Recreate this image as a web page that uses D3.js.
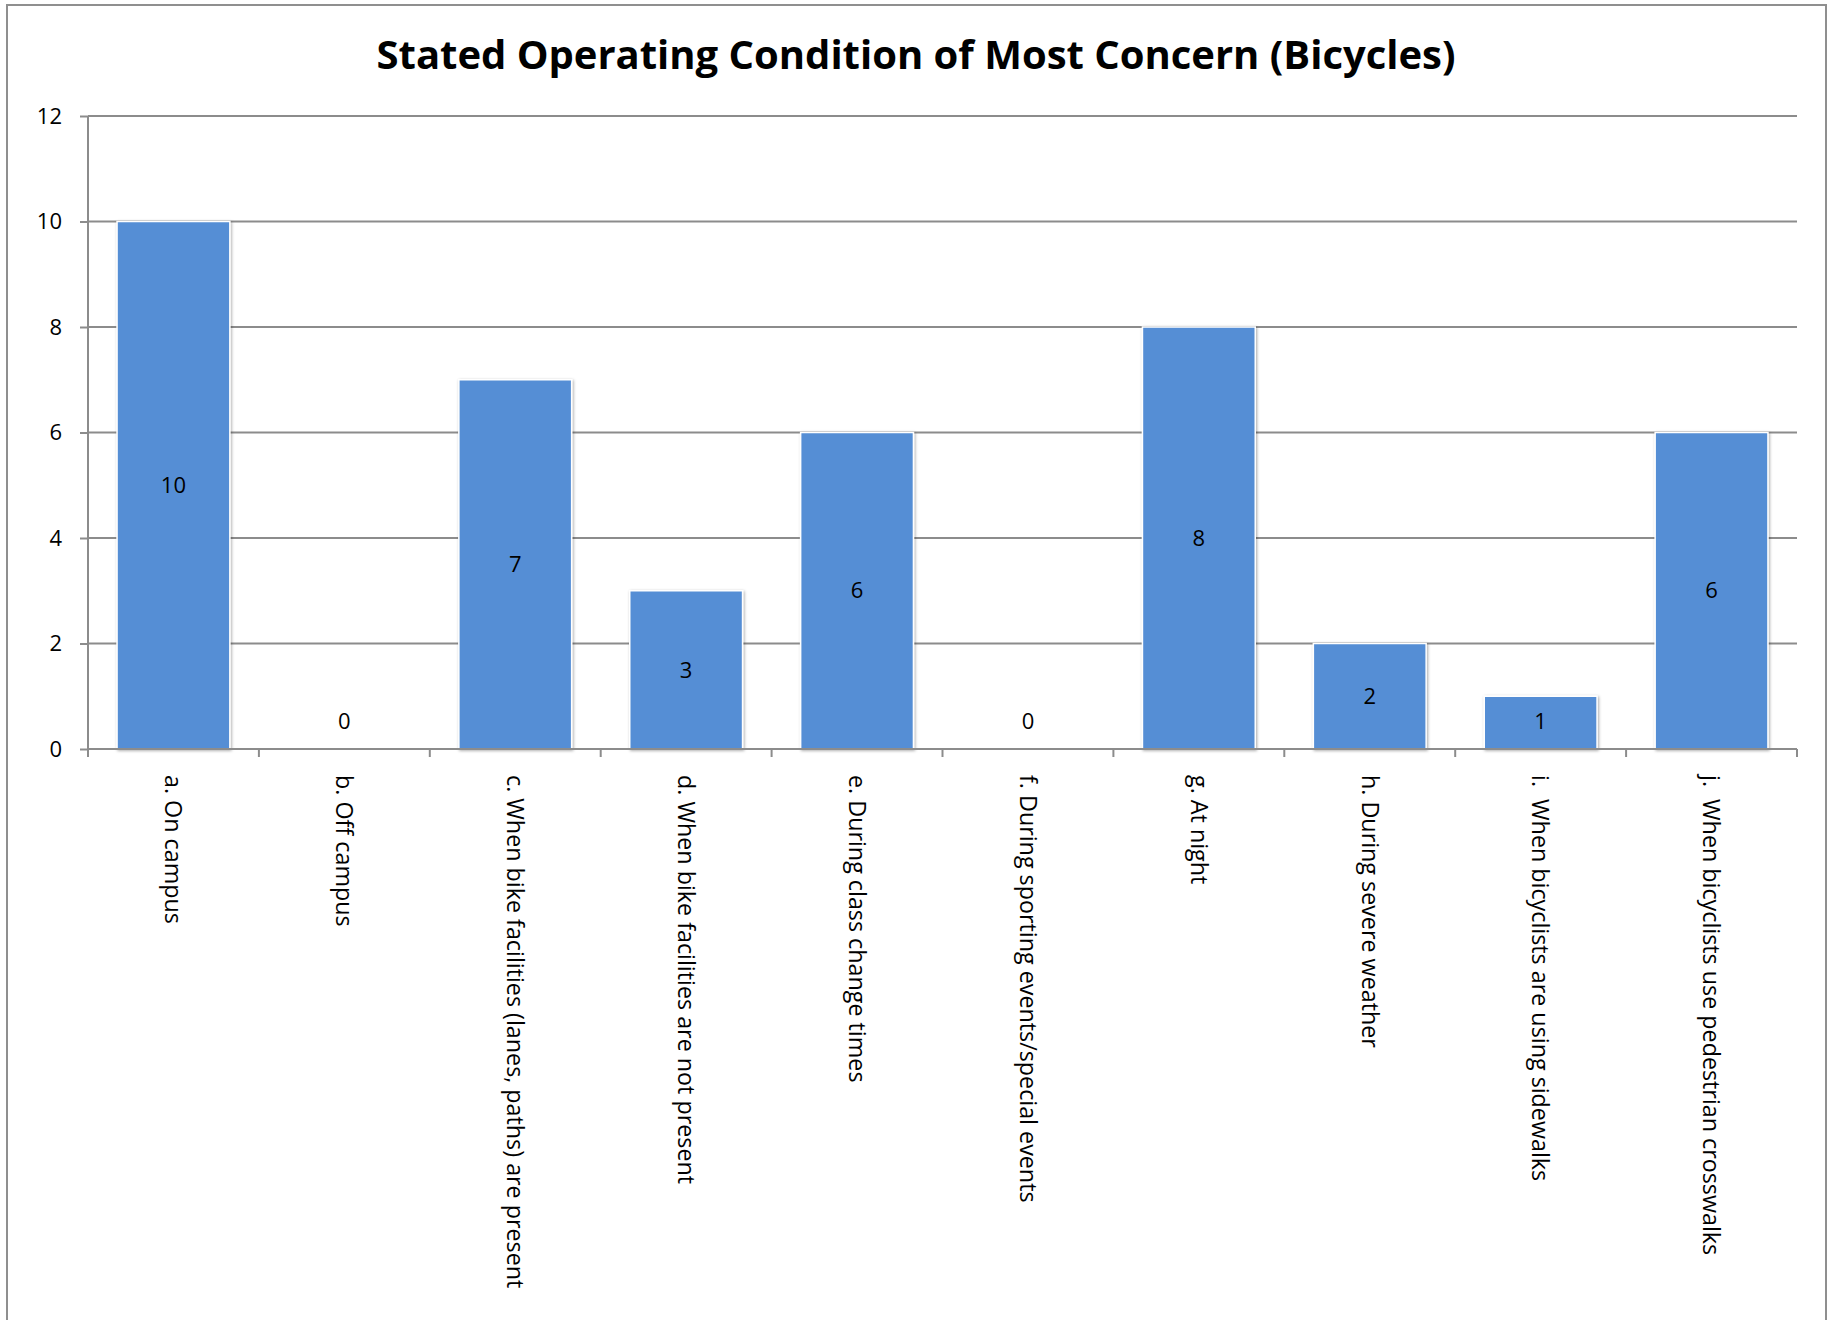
<!DOCTYPE html>
<html>
<head>
<meta charset="utf-8">
<script src="https://cdn.jsdelivr.net/npm/d3@7"></script>
<style>
  body { margin: 0; background: #fff; }
  text { font-family: "Open Sans", "Noto Sans", sans-serif; }
</style>
</head>
<body>
<script>
// Chart data
var categories = [
  "a. On campus",
  "b. Off campus",
  "c. When bike facilities (lanes, paths) are present",
  "d. When bike facilities are not present",
  "e. During class change times",
  "f. During sporting events/special events",
  "g. At night",
  "h. During severe weather",
  "i.  When bicyclists are using sidewalks",
  "j.  When bicyclists use pedestrian crosswalks"
];
var counts = [10, 0, 7, 3, 6, 0, 8, 2, 1, 6];
var yTicks = [0, 2, 4, 6, 8, 10, 12];
var chartTitle = "Stated Operating Condition of Most Concern (Bicycles)";

// SVG area
var svgWidth = 1833;
var svgHeight = 1320;

var margin = { top: 116, right: 36, bottom: 571, left: 88 };
var chartWidth = svgWidth - margin.left - margin.right;
var chartHeight = svgHeight - margin.top - margin.bottom;

var svg = d3.select("body")
  .append("svg")
  .attr("width", svgWidth)
  .attr("height", svgHeight);

// shadow for the bars
var defs = svg.append("defs");
defs.append("filter")
  .attr("id", "shadow")
  .attr("x", "-10%").attr("y", "-10%")
  .attr("width", "120%").attr("height", "120%")
  .append("feDropShadow")
  .attr("dx", 1).attr("dy", 1)
  .attr("stdDeviation", 1.5)
  .attr("flood-color", "#000")
  .attr("flood-opacity", 0.35);

// outer frame
svg.append("rect")
  .attr("x", 7)
  .attr("y", 5)
  .attr("width", 1819)
  .attr("height", svgHeight + 10)
  .attr("fill", "none")
  .attr("stroke", "#8f8f8f")
  .attr("stroke-width", 2);

// title
svg.append("text")
  .attr("x", 916)
  .attr("y", 69)
  .attr("text-anchor", "middle")
  .attr("font-size", 40)
  .attr("font-weight", "bold")
  .attr("textLength", 1079)
  .attr("lengthAdjust", "spacingAndGlyphs")
  .text(chartTitle);

var chartGroup = svg.append("g")
  .attr("transform", `translate(${margin.left}, ${margin.top})`);

// scales
var xScale = d3.scaleBand()
  .domain(categories)
  .range([0, chartWidth])
  .paddingInner(0.34)
  .paddingOuter(0.17);

var yScale = d3.scaleLinear()
  .domain([0, 12])
  .range([chartHeight, 0]);

// gridlines
chartGroup.append("g")
  .selectAll("line")
  .data(yTicks)
  .enter()
  .append("line")
  .attr("x1", 0)
  .attr("x2", chartWidth)
  .attr("y1", d => yScale(d))
  .attr("y2", d => yScale(d))
  .attr("stroke", "#8c8c8c")
  .attr("stroke-width", 2);

// y axis
var leftAxis = d3.axisLeft(yScale)
  .tickValues(yTicks)
  .tickSize(8)
  .tickPadding(18);

var yAxisG = chartGroup.append("g").call(leftAxis);
yAxisG.select(".domain").attr("stroke", "#8c8c8c").attr("stroke-width", 2)
  .attr("d", `M0,0V${chartHeight + 8}`);
yAxisG.selectAll(".tick line").attr("stroke", "#8c8c8c").attr("stroke-width", 2);
yAxisG.selectAll(".tick text")
  .attr("font-size", 22)
  .attr("fill", "#000")
  .style("font-family", "'Open Sans', sans-serif");

// bars
chartGroup.selectAll(".bar")
  .data(counts)
  .enter()
  .append("rect")
  .attr("class", "bar")
  .attr("x", (d, i) => xScale(categories[i]))
  .attr("y", d => yScale(d))
  .attr("width", xScale.bandwidth())
  .attr("height", d => chartHeight - yScale(d))
  .attr("fill", "#558ed5")
  .attr("stroke", "#ffffff")
  .attr("stroke-width", 1.5)
  .attr("filter", d => d > 0 ? "url(#shadow)" : null);

// x axis (baseline + category ticks)
var bottomAxis = d3.axisBottom(xScale).tickSize(0).tickFormat("");
var xAxisG = chartGroup.append("g")
  .attr("transform", `translate(0, ${chartHeight})`)
  .call(bottomAxis);
xAxisG.select(".domain").attr("stroke", "#8c8c8c").attr("stroke-width", 2)
  .attr("d", `M0,0H${chartWidth}`);

var step = xScale.step();
var boundaries = d3.range(categories.length + 1).map(i => i * step);
xAxisG.selectAll(".sep")
  .data(boundaries)
  .enter()
  .append("line")
  .attr("class", "sep")
  .attr("x1", d => d).attr("x2", d => d)
  .attr("y1", 0).attr("y2", 8)
  .attr("stroke", "#8c8c8c")
  .attr("stroke-width", 2);

// rotated category labels
chartGroup.selectAll(".cat")
  .data(categories)
  .enter()
  .append("text")
  .attr("class", "cat")
  .attr("transform", d => `translate(${xScale(d) + xScale.bandwidth() / 2}, ${chartHeight + 26}) rotate(90)`)
  .attr("dy", "0.35em")
  .attr("font-size", 23.3)
  .attr("fill", "#000")
  .style("white-space", "pre")
  .text(d => d);

// value labels
chartGroup.selectAll(".val")
  .data(counts)
  .enter()
  .append("text")
  .attr("class", "val")
  .attr("x", (d, i) => xScale(categories[i]) + xScale.bandwidth() / 2)
  .attr("y", d => Math.min(yScale(d / 2), chartHeight - 28))
  .attr("dy", "0.35em")
  .attr("text-anchor", "middle")
  .attr("font-size", 22)
  .attr("fill", "#000")
  .text(d => d);
</script>
</body>
</html>
